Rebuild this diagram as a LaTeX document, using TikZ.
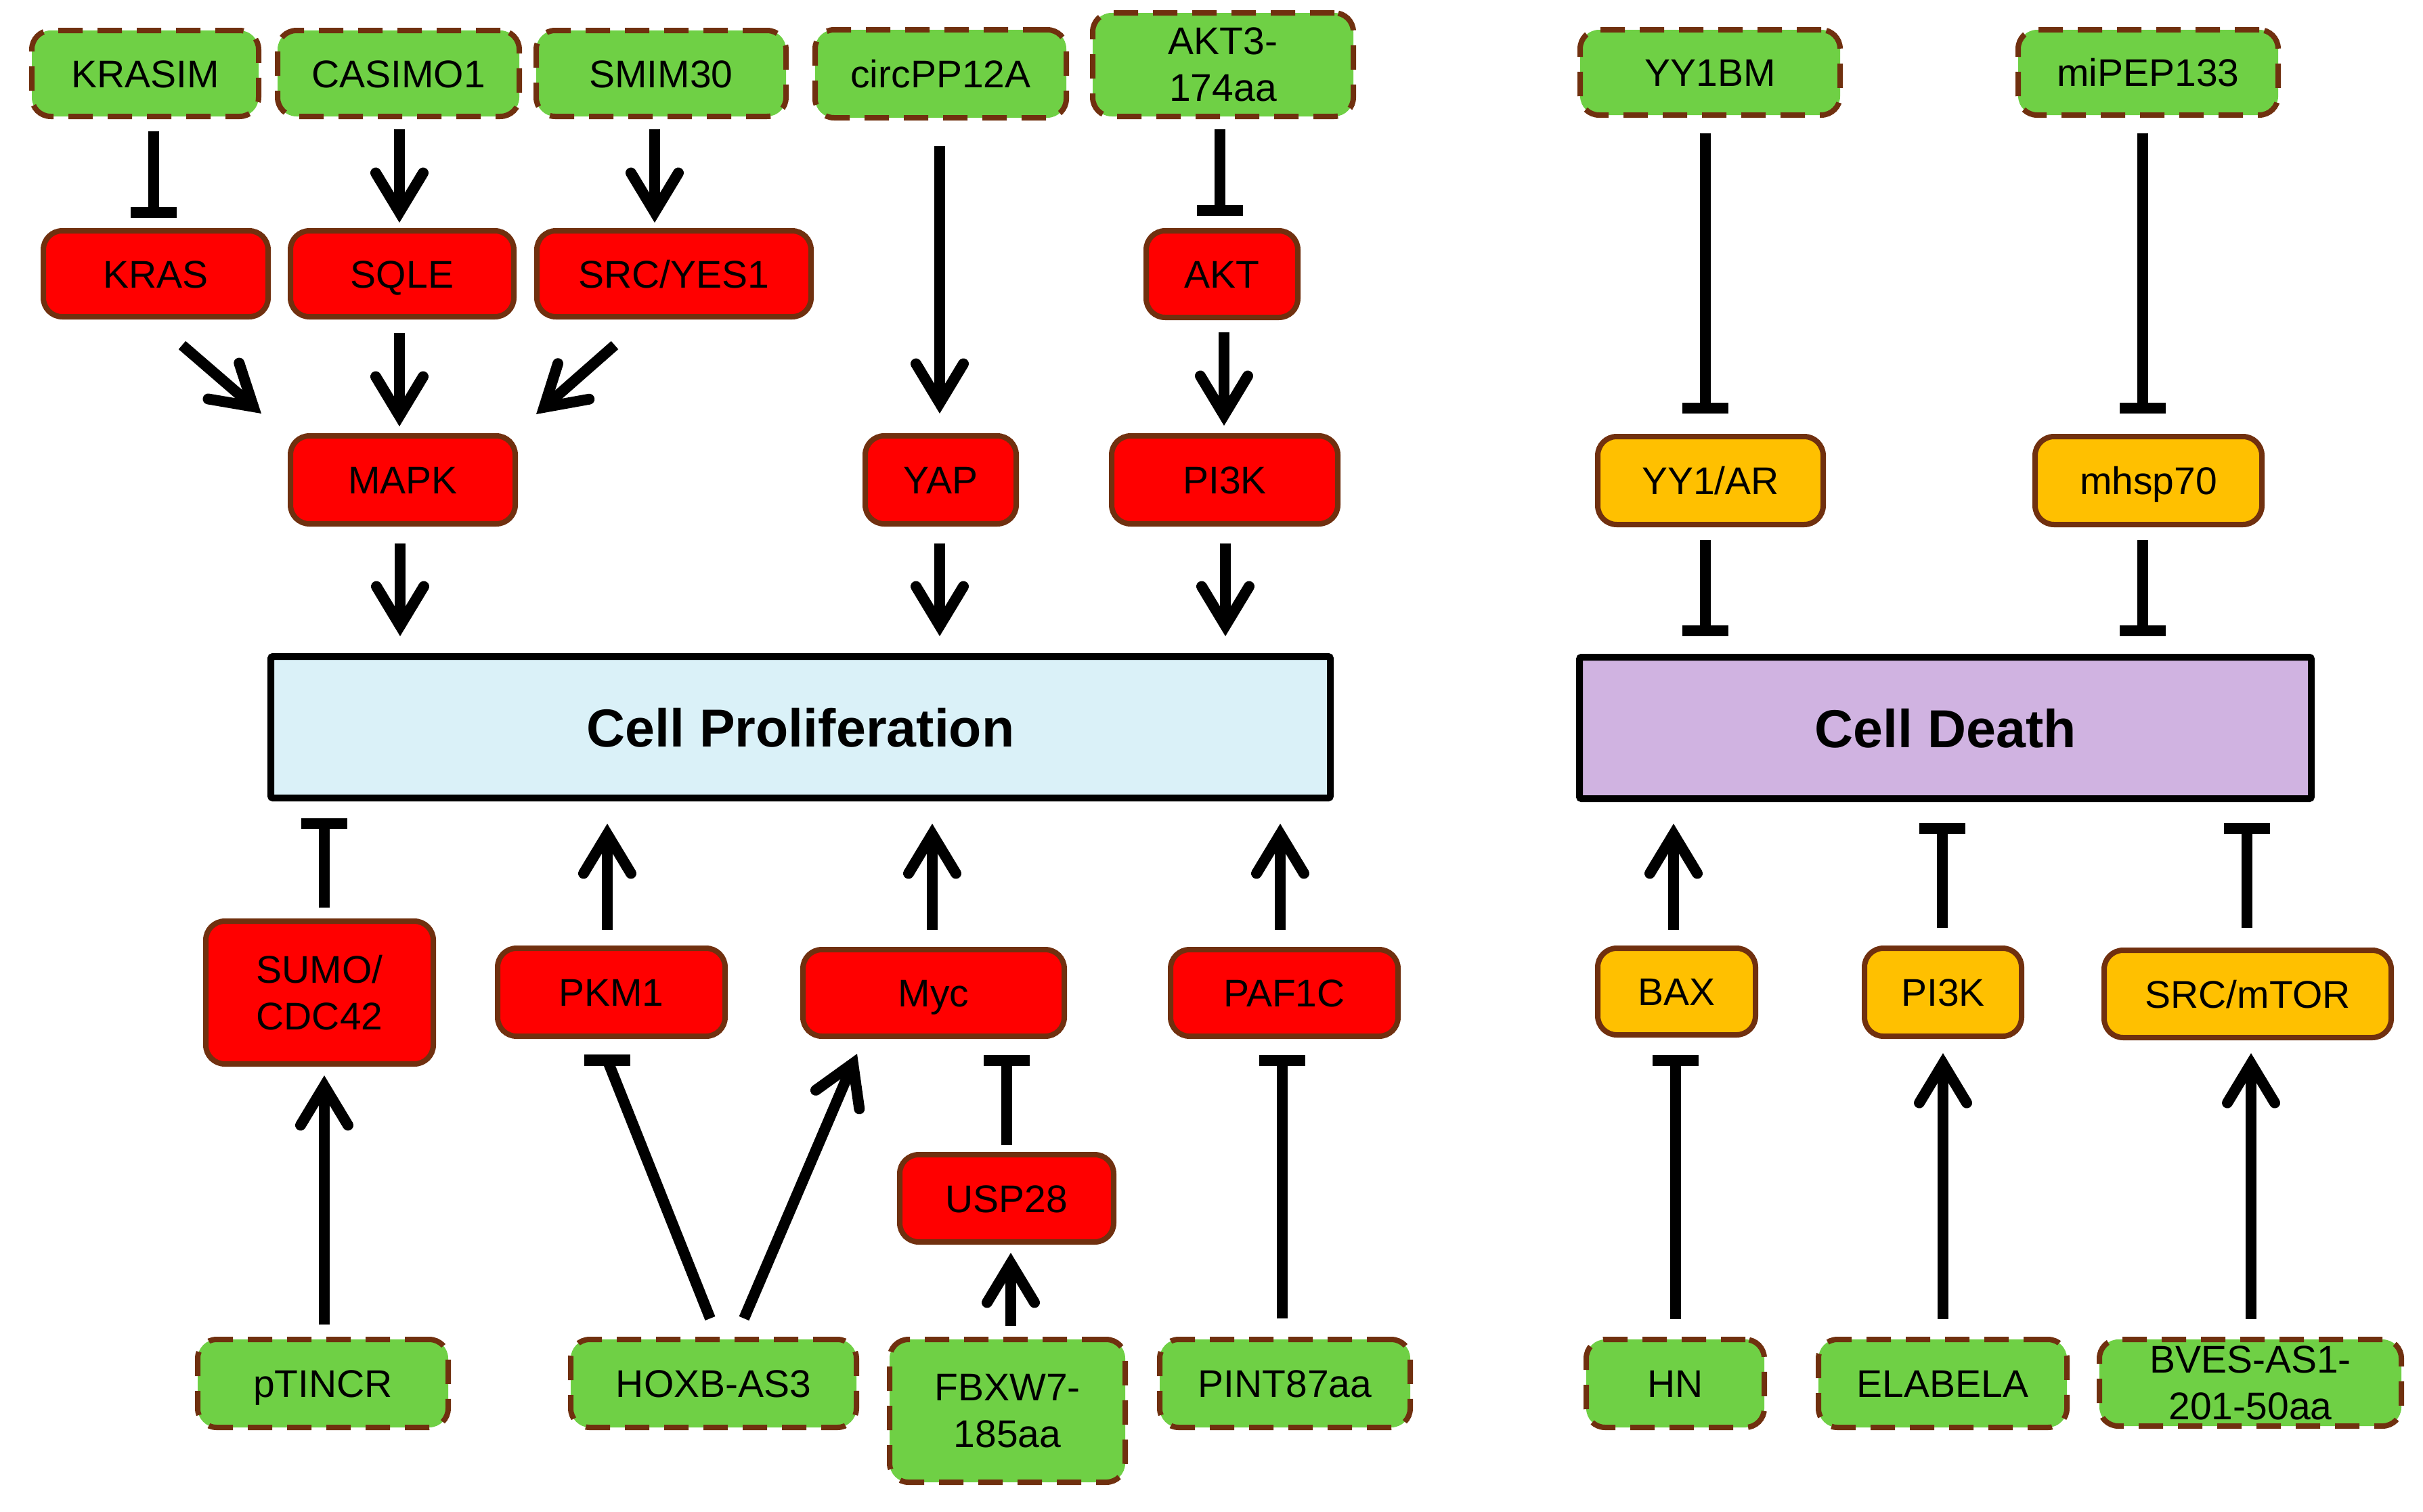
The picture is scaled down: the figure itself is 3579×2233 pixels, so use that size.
\documentclass[tikz,border=0pt]{standalone}
\usepackage{fontspec}
\setmainfont{Liberation Sans}
\usetikzlibrary{arrows.meta,calc}
\definecolor{gfill}{HTML}{6FD045}
\definecolor{brn}{HTML}{70300F}
\definecolor{orng}{HTML}{FFC000}
\definecolor{lblue}{HTML}{DAF1F8}
\definecolor{lpurp}{HTML}{D0B3E1}
\begin{document}
\begin{tikzpicture}[x=1pt,y=-1pt,
  base/.style={rounded corners=28pt, inner sep=0pt, align=center, font=\fontsize{57}{69}\selectfont, text=black},
  one/.style={text height=41pt, text depth=0pt},
  gbox/.style={base, fill=gfill, draw=brn, line width=8pt, dash pattern=on 36pt off 22pt},
  rbox/.style={base, fill=red, draw=brn, line width=8pt},
  obox/.style={base, fill=orng, draw=brn, line width=8pt},
  bigbox/.style={inner sep=0pt, draw=black, line width=10pt, rounded corners=3pt, text height=57pt, text depth=0pt, font=\fontsize{79}{90}\selectfont\bfseries},
  act/.style={line width=16pt, -{Straight Barb[length=58pt,width=70pt,line cap=round]}},
  inh/.style={line width=16pt, -{Bar[width=68pt]}},
  plain/.style={line width=16pt},
]
\useasboundingbox (0,0) rectangle (3579,2233);

% top green
\node[gbox, one, minimum width=335pt, minimum height=127pt] (krasim) at (214.5,108.5) {KRASIM};
\node[gbox, one, minimum width=357pt, minimum height=127pt] (casimo) at (588.5,108.5) {CASIMO1};
\node[gbox, one, minimum width=369pt, minimum height=127pt] (smim) at (976.5,108.5) {SMIM30};
\node[gbox, one, minimum width=371pt, minimum height=130pt] (circ) at (1389.5,109) {circPP12A};
\node[gbox, minimum width=385pt, minimum height=153pt] (akt3) at (1806.5,95.5) {AKT3-\\174aa};
\node[gbox, one, minimum width=384pt, minimum height=126pt] (yy1bm) at (2526,107) {YY1BM};
\node[gbox, one, minimum width=384pt, minimum height=126pt] (mipep) at (3173,107) {miPEP133};

% bottom green
\node[gbox, one, minimum width=370pt, minimum height=130pt] (ptincr) at (477,2044) {pTINCR};
\node[gbox, one, minimum width=422pt, minimum height=130pt] (hoxb) at (1054,2044) {HOXB-AS3};
\node[gbox, minimum width=348pt, minimum height=211pt] (fbxw7) at (1488,2084.5) {FBXW7-\\185aa};
\node[gbox, one, minimum width=370pt, minimum height=130pt] (pint) at (1898,2044) {PINT87aa};
\node[gbox, one, minimum width=263pt, minimum height=130pt] (hn) at (2474.5,2044) {HN};
\node[gbox, one, minimum width=367pt, minimum height=130pt] (elabela) at (2869.5,2044) {ELABELA};
\node[gbox, minimum width=446pt, minimum height=128pt] (bves) at (3324,2043) {BVES-AS1-\\201-50aa};

% red
\node[rbox, one, minimum width=332pt, minimum height=127pt] (kras) at (230,404.5) {KRAS};
\node[rbox, one, minimum width=330pt, minimum height=127pt] (sqle) at (594,404.5) {SQLE};
\node[rbox, one, minimum width=405pt, minimum height=127pt] (src) at (995.5,404.5) {SRC/YES1};
\node[rbox, one, minimum width=224pt, minimum height=128pt] (akt) at (1805,405) {AKT};
\node[rbox, one, minimum width=332pt, minimum height=130pt] (mapk) at (595,709) {MAPK};
\node[rbox, one, minimum width=223pt, minimum height=130pt] (yap) at (1389.5,709) {YAP};
\node[rbox, one, minimum width=334pt, minimum height=130pt] (pi3k) at (1809,709) {PI3K};
\node[rbox, minimum width=336pt, minimum height=211pt] (sumo) at (472,1466.5) {SUMO/\\CDC42};
\node[rbox, one, minimum width=336pt, minimum height=130pt] (pkm1) at (903,1466) {PKM1};
\node[rbox, one, minimum width=386pt, minimum height=128pt] (myc) at (1379,1467) {Myc};
\node[rbox, one, minimum width=336pt, minimum height=128pt] (paf1c) at (1897,1467) {PAF1C};
\node[rbox, one, minimum width=316pt, minimum height=129pt] (usp28) at (1487,1770.5) {USP28};

% orange
\node[obox, one, minimum width=333pt, minimum height=130pt] (yy1ar) at (2526.5,710) {YY1/AR};
\node[obox, one, minimum width=335pt, minimum height=130pt] (mhsp) at (3173.5,710) {mhsp70};
\node[obox, one, minimum width=233pt, minimum height=128pt] (bax) at (2476.5,1465) {BAX};
\node[obox, one, minimum width=232pt, minimum height=130pt] (pi3kd) at (2870,1466) {PI3K};
\node[obox, one, minimum width=424pt, minimum height=129pt] (srcm) at (3320,1468.5) {SRC/mTOR};

% big boxes
\node[bigbox, fill=lblue, minimum width=1565pt, minimum height=209pt] (prolif) at (1182.5,1074.5) {Cell Proliferation};
\node[bigbox, fill=lpurp, minimum width=1081pt, minimum height=209pt] (death) at (2873.5,1075.5) {Cell Death};

% connectors top-left
\draw[inh] ($(krasim.south)+(12.5,18)$) -- ($(kras.north)+(-3,-15)$);
\draw[act] ($(casimo.south)+(1.5,15)$) -- ($(sqle.north)+(-4,-8)$);
\draw[act] ($(smim.south)+(-9.5,15)$) -- ($(src.north)+(-28.5,-8)$);
\draw[act] ($(kras.south)+(39,38)$) -- ($(mapk.north west)+(-39,-29)$);
\draw[act] ($(sqle.south)+(-4,20)$) -- ($(mapk.north)+(-5,-10)$);
\draw[act] ($(src.south)+(-87.5,38)$) -- ($(mapk.north east)+(27,-28)$);
\draw[act] ($(circ.south)+(-1.5,38)$) -- ($(yap.north)+(-1.5,-29)$);
\draw[inh] ($(akt3.south)+(-4.5,15)$) -- ($(akt.north)+(-3,-18)$);
\draw[act] ($(akt.south)+(3,18)$) -- ($(pi3k.north)+(-1,-11)$);
\draw[act] ($(mapk.south)+(-4,25)$) -- ($(prolif.north west)+(196,-25)$);
\draw[act] ($(yap.south)+(-1.5,25)$) -- ($(prolif.north west)+(993,-25)$);
\draw[act] ($(pi3k.south)+(1,25)$) -- ($(prolif.north west)+(1415,-25)$);

% top-right
\draw[inh] ($(yy1bm.south)+(-7,23)$) -- ($(yy1ar.north)+(-7.5,-30)$);
\draw[inh] ($(mipep.south)+(-8,23)$) -- ($(mhsp.north)+(-8.5,-30)$);
\draw[inh] ($(yy1ar.south)+(-7.5,19)$) -- ($(death.north west)+(191,-26)$);
\draw[inh] ($(mhsp.south)+(-8.5,19)$) -- ($(death.north west)+(837,-26)$);

% bottom-left
\draw[inh] ($(sumo.north)+(7,-16)$) -- ($(prolif.south west)+(84,25)$);
\draw[act] ($(ptincr.north)+(2,-18)$) -- ($(sumo.south)+(7,13)$);
\draw[act] ($(pkm1.north)+(-6,-23)$) -- ($(prolif.south west)+(502,33)$);
\draw[plain] ($(hoxb.north)+(-5,-27)$) -- ($(pkm1.south)+(-6,31)$);
\draw[line width=17pt] ($(pkm1.south)+(-40,31)$) -- ($(pkm1.south)+(28,31)$);
\draw[act] ($(hoxb.north)+(45,-27)$) -- ($(myc.south west)+(84,22)$);
\draw[act] ($(myc.north)+(-2,-25)$) -- ($(prolif.south west)+(982,33)$);
\draw[inh] ($(usp28.north)+(0,-10)$) -- ($(myc.south)+(108,24)$);
\draw[act] ($(fbxw7.north)+(5,-16)$) -- ($(usp28.south)+(6,12)$);
\draw[act] ($(paf1c.north)+(-6,-25)$) -- ($(prolif.south west)+(1496,33)$);
\draw[inh] ($(pint.north)+(-4,-27)$) -- ($(paf1c.south)+(-3,24)$);

% bottom-right
\draw[act] ($(bax.north)+(-4.5,-23)$) -- ($(death.south west)+(144,32)$);
\draw[inh] ($(pi3kd.north)+(-1,-26)$) -- ($(death.south west)+(541,31)$);
\draw[inh] ($(srcm.north)+(-1,-29)$) -- ($(death.south west)+(991,31)$);
\draw[inh] ($(hn.north)+(0.5,-26)$) -- ($(bax.south)+(-1.5,26)$);
\draw[act] ($(elabela.north)+(0.5,-26)$) -- ($(pi3kd.south)+(0,21)$);
\draw[act] ($(bves.north)+(1,-26)$) -- ($(srcm.south)+(5,19)$);
\end{tikzpicture}
\end{document}
